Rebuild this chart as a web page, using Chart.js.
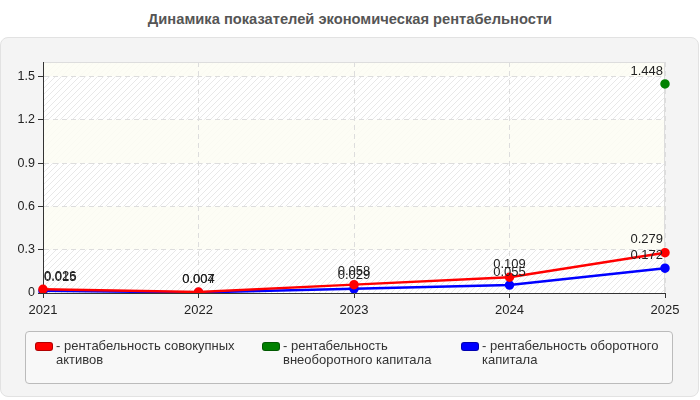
<!DOCTYPE html>
<html>
<head>
<meta charset="utf-8">
<script src="https://cdn.jsdelivr.net/npm/chart.js@4"></script>
<style>
  body { margin: 0; width: 700px; height: 400px; background: #fff; font-family: "Liberation Sans", Arial, sans-serif; position: relative; overflow: hidden; }
  #title { position: absolute; left: 0; top: 11px; width: 700px; text-align: center; font-weight: bold; font-size: 14.7px; color: #555; }
  #panel { position: absolute; left: 0; top: 37px; width: 697px; height: 358px; background: #f4f4f4; border: 1px solid #e2e2e2; border-radius: 8px; }
  #chartWrap { position: absolute; left: 0; top: 0; width: 700px; height: 400px; }
  #legend { position: absolute; left: 25px; top: 331px; width: 646px; height: 51px; background: #f8f8f8; border: 1px solid #bbb; border-radius: 4px; }
  .item { position: absolute; top: 7px; font-size: 13px; color: #333; line-height: 13.5px; }
  .sw { position: absolute; left: 0; top: 3px; width: 16px; height: 7px; border-radius: 3px; border: 1px solid rgba(0,0,0,0.3); }
  .txt { position: absolute; left: 21px; top: 0; }
</style>
</head>
<body>
<div id="title">Динамика показателей экономическая рентабельности</div>
<div id="panel"></div>
<div id="chartWrap"><canvas id="myChart"></canvas></div>
<div id="legend"></div>
<script>
var years = ['2021', '2022', '2023', '2024', '2025'];
var totalAssets = [0.026, 0.007, 0.058, 0.109, 0.279];
var fixedCapital = [null, null, null, null, 1.448];
var workingCapital = [0.015, 0.004, 0.029, 0.055, 0.172];
var yTicks = [0, 0.3, 0.6, 0.9, 1.2, 1.5];

var names = ['рентабельность совокупных активов', 'рентабельность внеоборотного капитала', 'рентабельность оборотного капитала'];
var colors = ['#ff0000', '#008000', '#0000ff'];

// plot area background: alternating bands with fine diagonal hatch
var bgPlugin = {
    id: 'bg',
    beforeDraw: function(chart) {
        var ctx = chart.ctx, a = chart.chartArea, y = chart.scales.y;
        var pc = document.createElement('canvas');
        pc.width = 6; pc.height = 6;
        var p = pc.getContext('2d');
        p.fillStyle = '#ffffff'; p.fillRect(0, 0, 6, 6);
        p.strokeStyle = '#e8e8e8'; p.lineWidth = 1;
        p.beginPath(); p.moveTo(0, 6); p.lineTo(6, 0); p.stroke();
        ctx.save();
        ctx.fillStyle = ctx.createPattern(pc, 'repeat');
        ctx.fillRect(a.left, a.top, a.right - a.left, a.bottom - a.top);
        ctx.fillStyle = 'rgba(253,253,243,0.85)';
        var bands = [[1.5, 1.6], [0.9, 1.2], [0.3, 0.6]];
        for (var i = 0; i < bands.length; i++) {
            var t = y.getPixelForValue(bands[i][1]), b = y.getPixelForValue(bands[i][0]);
            ctx.fillRect(a.left, t, a.right - a.left, b - t);
        }
        ctx.strokeStyle = '#dddddd';
        ctx.lineWidth = 1;
        ctx.strokeRect(a.left + 0.5, a.top + 0.5, a.right - a.left - 1, a.bottom - a.top);
        ctx.restore();
    }
};

// value labels above points
var labelPlugin = {
    id: 'vals',
    afterDatasetsDraw: function(chart) {
        var ctx = chart.ctx, a = chart.chartArea;
        ctx.save();
        ctx.font = '13px "Liberation Sans", Arial, sans-serif';
        ctx.fillStyle = '#222';
        ctx.textBaseline = 'middle';
        chart.data.datasets.forEach(function(ds, di) {
            chart.getDatasetMeta(di).data.forEach(function(pt, i) {
                var v = ds.data[i];
                if (v === null) return;
                var s = String(v);
                var w = ctx.measureText(s).width;
                var x = pt.x, align = 'center';
                if (x - w / 2 < a.left) { x = a.left + 1; align = 'left'; }
                else if (x + w / 2 > a.right) { x = a.right - 2; align = 'right'; }
                ctx.textAlign = align;
                ctx.fillText(s, x, pt.y - 13);
            });
        });
        ctx.restore();
    }
};

var datasets = [totalAssets, fixedCapital, workingCapital].map(function(d, i) {
    return {
        label: names[i],
        data: d,
        borderColor: colors[i],
        backgroundColor: colors[i],
        borderWidth: 2.5,
        pointRadius: 3.5,
        pointHoverRadius: 3.5,
        spanGaps: false
    };
});

var ctx = document.getElementById('myChart');
var chart = new Chart(ctx, {
    type: 'line',
    data: { labels: years, datasets: datasets },
    plugins: [bgPlugin, labelPlugin],
    options: {
        responsive: true,
        maintainAspectRatio: false,
        animation: false,
        layout: { padding: { left: 0, top: 62, right: 35, bottom: 80 } },
        plugins: { legend: { display: false }, title: { display: false }, tooltip: { enabled: false } },
        scales: {
            x: {
                offset: false,
                grid: { color: '#dddddd', tickColor: '#333', tickLength: 5, drawOnChartArea: true },
                border: { display: true, color: '#333', width: 1, dash: [5, 4] },
                ticks: { color: '#222', font: { size: 13, family: '"Liberation Sans", Arial, sans-serif' }, padding: 5, maxRotation: 0 },
                afterFit: function(s) { s.height = 27; }
            },
            y: {
                min: 0,
                max: 1.6,
                grid: { color: '#dddddd', tickColor: '#333', tickLength: 5 },
                border: { display: true, color: '#333', width: 1, dash: [5, 4] },
                ticks: { color: '#222', font: { size: 12.5, family: '"Liberation Sans", Arial, sans-serif' }, padding: 3 },
                afterBuildTicks: function(s) { s.ticks = yTicks.map(function(v) { return { value: v }; }); },
                afterFit: function(s) { s.width = 43; }
            }
        }
    }
});

// legend built from the datasets
var leg = document.getElementById('legend');
var lefts = [9, 236, 435];
var widths = [195, 185, 205];
datasets.forEach(function(ds, i) {
    var it = document.createElement('div');
    it.className = 'item';
    it.style.left = lefts[i] + 'px';
    it.style.width = (widths[i] + 21) + 'px';
    it.innerHTML = '<span class="sw" style="background:' + ds.borderColor + '"></span><span class="txt" style="width:' + widths[i] + 'px">- ' + ds.label + '</span>';
    leg.appendChild(it);
});
</script>
</body>
</html>
